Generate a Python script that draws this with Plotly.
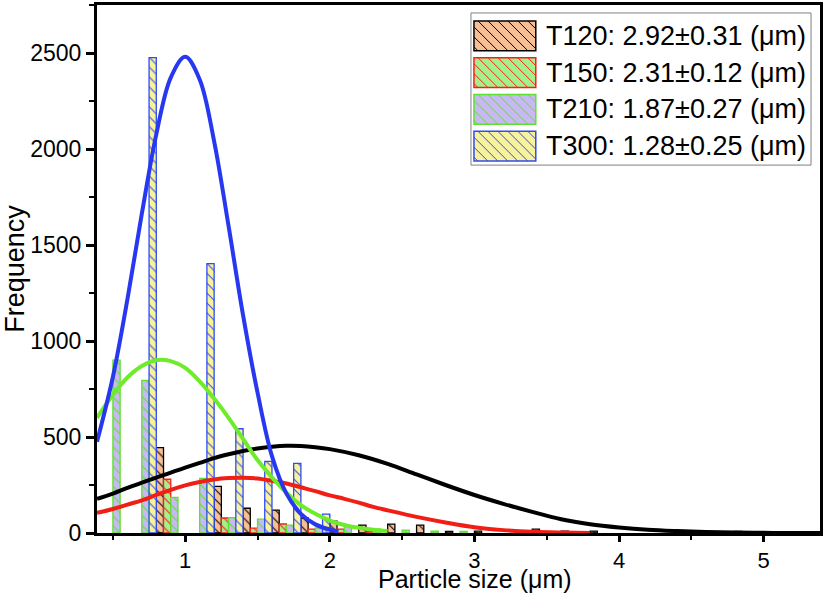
import plotly.graph_objects as go

# ---- data ----
bin_centers = [0.6, 0.8, 1.0, 1.2, 1.4, 1.6, 1.8, 2.0, 2.2, 2.4, 2.6, 2.8,
               3.0, 3.2, 3.4, 3.6, 3.8, 4.0, 4.2, 4.4, 4.6, 4.8]
t120_counts = [0, 445, 0, 243, 129, 119, 78, 62, 41, 46, 41, 8, 10, 0, 20, 10, 10, 0, 0, 0, 0, 8]
t150_counts = [0, 280, 0, 78, 25, 47, 20, 20, 8, 0, 0, 0, 0, 0, 0, 0, 0, 0, 0, 0, 0, 0]
t210_counts = [900, 795, 186, 285, 80, 72, 41, 26, 35, 20, 15, 10, 8, 0, 0, 0, 0, 0, 0, 0, 0, 0]
t300_counts = [0, 2476, 0, 1403, 543, 373, 363, 98, 0, 0, 0, 0, 0, 0, 0, 0, 0, 0, 0, 0, 0, 0]

# fitted distribution curves
fit_t120_x = [0.39, 0.5, 0.6, 0.7, 0.8, 0.9, 1.0, 1.1, 1.2, 1.3, 1.4, 1.5, 1.6, 1.7, 1.8, 1.9, 2.0,
              2.2, 2.4, 2.6, 2.8, 3.0, 3.2, 3.4, 3.6, 3.8, 4.0, 4.2, 4.4, 4.6, 4.8, 5.0, 5.2, 5.39]
fit_t120_y = [178, 205, 235, 262, 288, 315, 340, 365, 390, 410, 427, 440, 449, 454, 453, 447, 437,
              405, 360, 305, 250, 198, 152, 110, 72, 46, 29, 17, 10, 5, 2, 1, 0, 0]
fit_t150_x = [0.39, 0.5, 0.6, 0.7, 0.8, 0.9, 1.0, 1.1, 1.2, 1.3, 1.4, 1.5, 1.6, 1.7, 1.8, 1.9, 2.0,
              2.1, 2.2, 2.3, 2.4, 2.6, 2.8, 3.0, 3.2, 3.4, 3.6, 3.8]
fit_t150_y = [105, 125, 148, 170, 198, 225, 248, 266, 279, 286, 288, 284, 272, 258, 238, 218, 196,
              178, 158, 136, 118, 84, 55, 30, 15, 6, 2, 0]
fit_t210_x = [0.39, 0.5, 0.6, 0.7, 0.8, 0.9, 1.0, 1.1, 1.2, 1.3, 1.4, 1.5, 1.6, 1.7, 1.8, 1.9,
              2.0, 2.1, 2.2, 2.3, 2.4]
fit_t210_y = [600, 720, 810, 870, 900, 895, 860, 790, 700, 600, 490, 380, 290, 210, 145, 100,
              65, 42, 27, 17, 10]
fit_t300_x = [0.39, 0.5, 0.6, 0.7, 0.8, 0.9, 1.0, 1.1, 1.2, 1.3, 1.4, 1.5, 1.6, 1.7, 1.8, 1.9,
              2.0, 2.06]
fit_t300_y = [475, 814, 1216, 1663, 2076, 2372, 2480, 2362, 2040, 1598, 1135, 732, 400, 205, 100,
              45, 18, 8]

legend_labels = ["T120: 2.92\u00b10.31 (\u03bcm)", "T150: 2.31\u00b10.12 (\u03bcm)",
                 "T210: 1.87\u00b10.27 (\u03bcm)", "T300: 1.28\u00b10.25 (\u03bcm)"]
x_title = "Particle size (\u03bcm)"
y_title = "Frequency"

# ---- styling ----
fills = ["#F6BF95", "#A4F08A", "#C9B9F2", "#F8F39A"]
edges = ["#000000", "#FF1A1A", "#5FE030", "#2E4BF5"]
offsets = [0.0, 0.05, -0.10, -0.05]
curve_colors = ["#000000", "#F01E14", "#6EEB2A", "#2838F0"]
all_counts = [t120_counts, t150_counts, t210_counts, t300_counts]
fits = [(fit_t120_x, fit_t120_y), (fit_t150_x, fit_t150_y),
        (fit_t210_x, fit_t210_y), (fit_t300_x, fit_t300_y)]

W, H = 825, 594
ML, MR, MT, MB = 97, 3, 2, 61
PW, PH = W - ML - MR, H - MT - MB

FONT = "Liberation Sans, Arial, sans-serif"
fig = go.Figure()

for counts, fill, edge, off, label in zip(all_counts, fills, edges, offsets, legend_labels):
    xs = [x for x, c in zip(bin_centers, counts) if c > 0]
    ys = [c for c in counts if c > 0]
    fig.add_trace(go.Bar(
        x=xs, y=ys, name=label, width=0.05, offset=off, showlegend=False,
        marker=dict(color=fill, line=dict(color=edge, width=1.3),
                    pattern=dict(shape="\\", fgcolor=edge, bgcolor=fill,
                                 size=7, solidity=0.15, fillmode="replace")),
    ))

for (fx, fy), col in zip(fits, curve_colors):
    fig.add_trace(go.Scatter(x=fx, y=fy, mode="lines", showlegend=False,
                             line=dict(color=col, width=4, shape="spline", smoothing=1.0),
                             hoverinfo="skip"))

# ---- legend box drawn as layout decoration (pixel -> paper conversion) ----
def px(x):
    return (x - ML) / PW


def py(y):
    return (MT + PH - y) / PH


shapes = [dict(type="rect", xref="paper", yref="paper", x0=px(472), x1=px(813),
               y0=py(163), y1=py(10), line=dict(color="#808080", width=1),
               fillcolor="white", layer="above")]
annotations = []
sw_x0, sw_x1 = 475, 537
row_tops = [18, 55, 92, 129]
sw_h = 30
for top, fill, edge, label in zip(row_tops, fills, edges, legend_labels):
    bot = top + sw_h
    shapes.append(dict(type="rect", xref="paper", yref="paper",
                       x0=px(sw_x0), x1=px(sw_x1), y0=py(bot), y1=py(top),
                       fillcolor=fill, line=dict(width=0), layer="above"))
    w, h = sw_x1 - sw_x0, bot - top
    segs = []
    c = -h + 4
    while c < w:
        t0, t1 = max(0, -c), min(h, w - c)
        if t1 > t0:
            segs.append("M%.5f,%.5f L%.5f,%.5f" % (px(sw_x0 + c + t0), py(top + t0),
                                                   px(sw_x0 + c + t1), py(top + t1)))
        c += 10
    shapes.append(dict(type="path", xref="paper", yref="paper", path=" ".join(segs),
                       line=dict(color=edge, width=1), layer="above"))
    shapes.append(dict(type="rect", xref="paper", yref="paper",
                       x0=px(sw_x0), x1=px(sw_x1), y0=py(bot), y1=py(top),
                       line=dict(color=edge, width=1.5), layer="above"))
    annotations.append(dict(xref="paper", yref="paper", x=px(545), y=py(top + h / 2),
                            xanchor="left", yanchor="middle", showarrow=False,
                            text=label, font=dict(size=27, family=FONT, color="black")))

# x-axis title placed as in the reference
annotations.append(dict(xref="paper", yref="paper", x=px(476), y=py(594),
                        xanchor="center", yanchor="bottom", showarrow=False, borderpad=0,
                        text=x_title, font=dict(size=25, family=FONT, color="black")))

fig.update_layout(
    width=W, height=H,
    margin=dict(l=ML, r=MR, t=MT, b=MB),
    paper_bgcolor="white", plot_bgcolor="white",
    barmode="overlay",
    font=dict(family=FONT, color="black", size=22),
    showlegend=False,
    shapes=shapes, annotations=annotations,
)
fig.update_xaxes(
    range=[0.39, 5.39], tick0=1, dtick=1, ticks="outside", ticklen=6, tickwidth=2.5,
    tickcolor="black", showline=True, linewidth=3, linecolor="black", mirror=True,
    showgrid=False, zeroline=False,
    minor=dict(dtick=0.5, ticklen=4, tickwidth=2, tickcolor="black", ticks="outside"),
    tickfont=dict(size=22),
)
fig.update_yaxes(
    range=[0, 2750], tick0=0, dtick=500, ticks="outside", ticklen=8, tickwidth=2.5,
    tickcolor="black", showline=True, linewidth=3, linecolor="black", mirror=True,
    showgrid=False, zeroline=False,
    minor=dict(dtick=250, ticklen=5, tickwidth=2, tickcolor="black", ticks="outside"),
    title=dict(text=y_title, font=dict(size=27), standoff=4),
    tickfont=dict(size=23),
)

fig.write_html("out.html", config={"displayModeBar": False},
               post_script="document.body.style.margin='0';")
